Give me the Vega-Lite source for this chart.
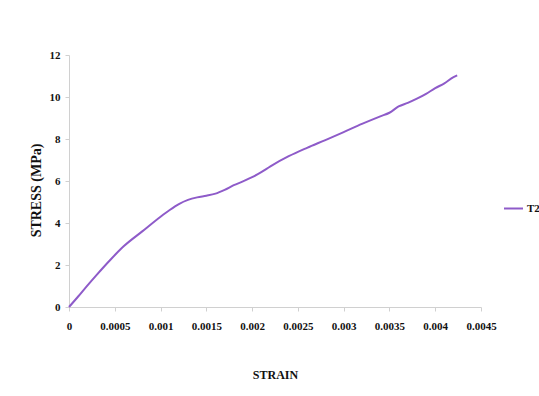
{
  "$schema": "https://vega.github.io/schema/vega-lite/v6.json",
  "width": 412,
  "height": 252,
  "autosize": {"type": "none"},
  "padding": {"left": 69, "top": 55, "right": 58, "bottom": 89},
  "background": "white",
  "config": {
    "view": {"stroke": null},
    "font": "Liberation Serif",
    "axis": {
      "grid": false,
      "domainColor": "#d0d0d0",
      "tickColor": "#d0d0d0",
      "tickSize": 4,
      "labelFont": "Liberation Serif",
      "labelFontWeight": "bold",
      "labelFontSize": 11,
      "labelColor": "#111111",
      "titleFont": "Liberation Serif",
      "titleFontWeight": "bold",
      "titleColor": "#111111"
    },
    "legend": {
      "labelFont": "Liberation Serif",
      "labelFontWeight": "bold",
      "labelFontSize": 11,
      "labelColor": "#111111"
    }
  },
  "data": {
    "values": [
      {"strain": 0, "stress": 0, "series": "T2"},
      {"strain": 0.0001, "stress": 0.5, "series": "T2"},
      {"strain": 0.0002, "stress": 1.02, "series": "T2"},
      {"strain": 0.0003, "stress": 1.52, "series": "T2"},
      {"strain": 0.00045, "stress": 2.24, "series": "T2"},
      {"strain": 0.0006, "stress": 2.9, "series": "T2"},
      {"strain": 0.0008, "stress": 3.6, "series": "T2"},
      {"strain": 0.001, "stress": 4.3, "series": "T2"},
      {"strain": 0.0011, "stress": 4.62, "series": "T2"},
      {"strain": 0.0012, "stress": 4.9, "series": "T2"},
      {"strain": 0.0013, "stress": 5.1, "series": "T2"},
      {"strain": 0.0014, "stress": 5.22, "series": "T2"},
      {"strain": 0.0015, "stress": 5.3, "series": "T2"},
      {"strain": 0.0016, "stress": 5.4, "series": "T2"},
      {"strain": 0.0017, "stress": 5.58, "series": "T2"},
      {"strain": 0.0018, "stress": 5.8, "series": "T2"},
      {"strain": 0.0019, "stress": 5.98, "series": "T2"},
      {"strain": 0.002, "stress": 6.18, "series": "T2"},
      {"strain": 0.0021, "stress": 6.42, "series": "T2"},
      {"strain": 0.0022, "stress": 6.7, "series": "T2"},
      {"strain": 0.0024, "stress": 7.18, "series": "T2"},
      {"strain": 0.0026, "stress": 7.58, "series": "T2"},
      {"strain": 0.0028, "stress": 7.95, "series": "T2"},
      {"strain": 0.003, "stress": 8.33, "series": "T2"},
      {"strain": 0.0032, "stress": 8.72, "series": "T2"},
      {"strain": 0.0034, "stress": 9.08, "series": "T2"},
      {"strain": 0.0035, "stress": 9.25, "series": "T2"},
      {"strain": 0.0036, "stress": 9.55, "series": "T2"},
      {"strain": 0.0037, "stress": 9.72, "series": "T2"},
      {"strain": 0.0038, "stress": 9.92, "series": "T2"},
      {"strain": 0.0039, "stress": 10.15, "series": "T2"},
      {"strain": 0.004, "stress": 10.42, "series": "T2"},
      {"strain": 0.0041, "stress": 10.65, "series": "T2"},
      {"strain": 0.0042, "stress": 10.95, "series": "T2"},
      {"strain": 0.00424, "stress": 11.03, "series": "T2"}
    ]
  },
  "mark": {"type": "line", "strokeWidth": 2, "interpolate": "monotone"},
  "encoding": {
    "x": {
      "field": "strain",
      "type": "quantitative",
      "title": "STRAIN",
      "scale": {"domain": [0, 0.0045], "nice": false, "zero": true},
      "axis": {
        "values": [0, 0.0005, 0.001, 0.0015, 0.002, 0.0025, 0.003, 0.0035, 0.004, 0.0045],
        "format": "~f",
        "labelPadding": 9,
        "titlePadding": 38,
        "titleFontSize": 12,
        "labelFlush": false,
        "labelOverlap": false
      }
    },
    "y": {
      "field": "stress",
      "type": "quantitative",
      "title": "STRESS (MPa)",
      "scale": {"domain": [0, 12], "nice": false},
      "axis": {
        "values": [0, 2, 4, 6, 8, 10, 12],
        "labelPadding": 5,
        "titlePadding": 6,
        "titleFontSize": 14,
        "titleY": 135,
        "labelFlush": false
      }
    },
    "color": {
      "field": "series",
      "type": "nominal",
      "scale": {"range": ["#8e5bc9"]},
      "legend": {
        "title": null,
        "orient": "none",
        "legendX": 434,
        "legendY": 143,
        "symbolType": "stroke",
        "symbolSize": 361,
        "symbolStrokeWidth": 2,
        "labelOffset": 3
      }
    }
  }
}
